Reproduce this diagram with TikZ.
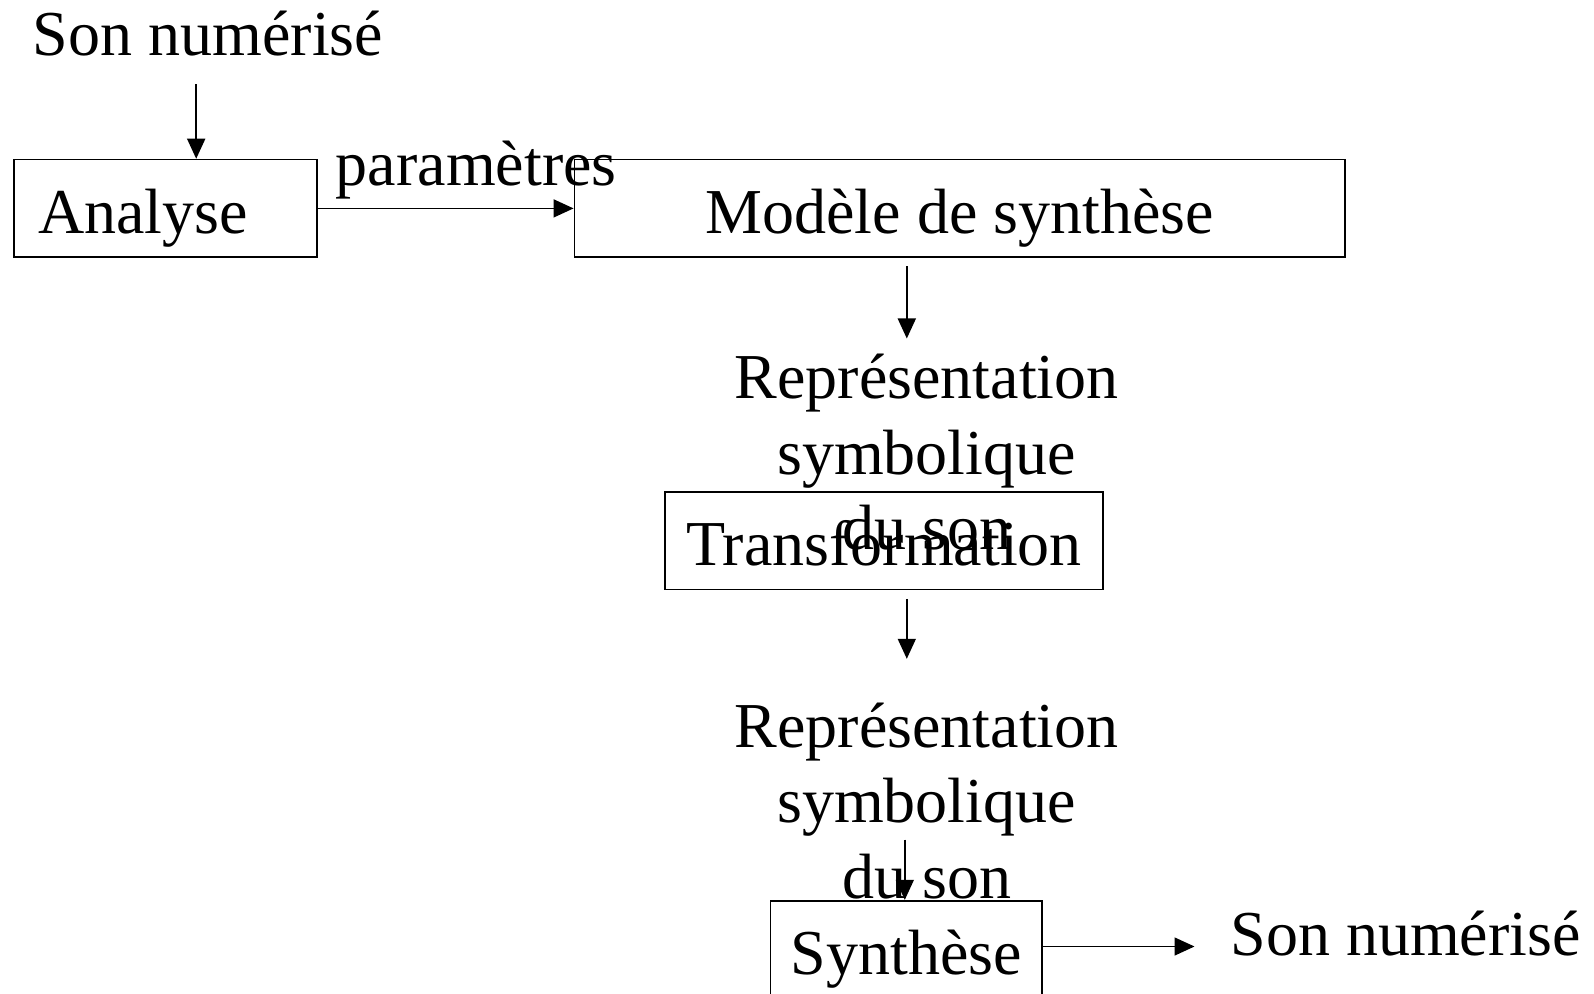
\documentclass[tikz,border=0pt]{standalone}
\usepackage{fontspec}
\setmainfont{Liberation Serif}
\usetikzlibrary{arrows.meta}
\begin{document}
\begin{tikzpicture}[x=0.5pt,y=-0.5pt,
  txt/.style={inner sep=0pt,font=\fontsize{32}{37.8}\selectfont},
  box/.style={draw,line width=0.85pt,inner sep=0pt,minimum height=48.8pt},
  arr/.style={line width=0.8pt,-{Triangle[length=10pt,width=9pt]}}]
\useasboundingbox (0,0) rectangle (1594,994);
\clip (0,0) rectangle (1594,994);

% boxes
\node[box,minimum width=151.5pt] (analyse) at (165.7,208.4) {};
\node[box,minimum width=385.3pt] (modele) at (959.7,208.4) {};
\node[box,minimum width=219.05pt] (transf) at (884,540.8) {};
\node[box,minimum width=135.7pt] (synth) at (906.3,949.5) {};

% texts (multi-line nodes are anchored on their last baseline)
\node[txt,anchor=base west] (son1) at (32.5,55.9) {Son numérisé};
\node[txt,anchor=base west] (tanalyse) at (37.6,233.8) {Analyse};
\node[txt,anchor=base west] (params) at (335.5,186) {paramètres};
\node[txt,anchor=base] (tmodele) at (959.7,233.8) {Modèle de synthèse};
\node[txt,anchor=base,align=center] (rep1) at (926.6,549.7) {Représentation\\symbolique\\du son};
\node[txt,anchor=base] (ttransf) at (884,565) {Transformation};
\node[txt,anchor=base,align=center] (rep2) at (926.6,898.4) {Représentation\\symbolique\\du son};
\node[txt,anchor=base] (tsynth) at (906.3,974) {Synthèse};
\node[txt,anchor=base west] (son2) at (1230,955.6) {Son numérisé};

% connector ends
\coordinate (c1) at (196.2,84.4);
\coordinate (c2) at (906.8,266.3);
\coordinate (c2e) at (906.8,338.5);
\coordinate (c3) at (906.8,598.8);
\coordinate (c3e) at (906.8,658.8);
\coordinate (c4) at (904.8,839.7);
\coordinate (c5e) at (1194.5,946.5);

% connectors
\draw[arr] (c1) -- (c1 |- analyse.north);
\draw[arr] (analyse.east) -- (modele.west);
\draw[arr] (c2) -- (c2e);
\draw[arr] (c3) -- (c3e);
\draw[arr] (c4) -- (c4 |- synth.north);
\draw[arr] (synth.east |- c5e) -- (c5e);
\end{tikzpicture}
\end{document}
